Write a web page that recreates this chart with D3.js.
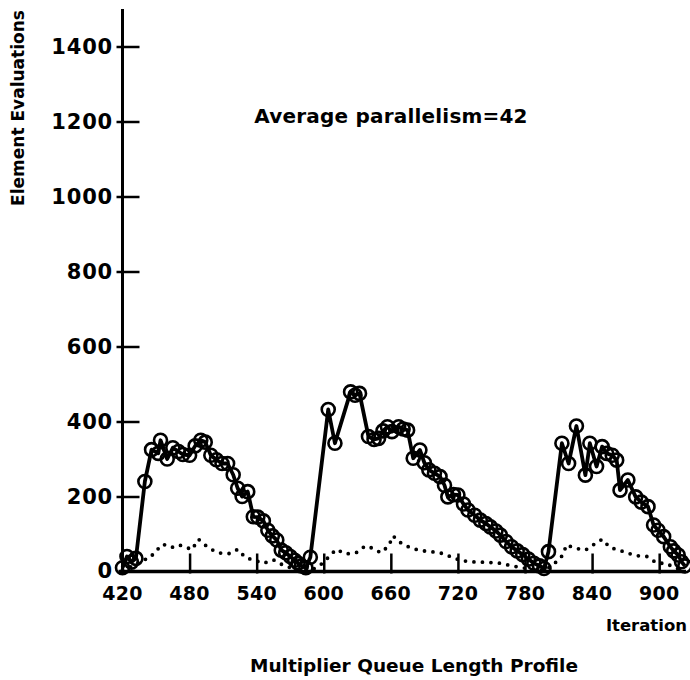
<!DOCTYPE html>
<html>
<head>
<meta charset="utf-8">
<script src="https://cdn.jsdelivr.net/npm/d3@7"></script>
<style>
  body { margin: 0; background: #fff; }
  svg text { font-family: "DejaVu Sans", sans-serif; font-weight: bold; fill: #000; }
</style>
</head>
<body>
<svg id="chart" width="690" height="680"></svg>
<script>
// main series: element evaluations per iteration (circles + solid line)
const iterations = [420, 424, 428, 432, 440, 446, 452, 454, 460, 465, 470, 474, 480, 485, 490, 494,
  499, 504, 509, 514, 519, 523, 527, 532, 537, 541, 546, 550, 554, 558, 562, 566, 570, 574, 577,
  580, 584, 588, 604, 610, 624, 628, 632, 640, 645, 649, 653, 657, 661, 667, 671, 675, 680, 686,
  690, 694, 699, 704, 708, 711, 716, 720, 725, 729, 735, 740, 745, 749, 754, 758, 763, 768, 773,
  778, 783, 788, 793, 797, 801, 813, 819, 826, 834, 838, 844, 849, 853, 858, 862, 865, 872, 879,
  884, 890, 895, 899, 904, 910, 913, 917, 920, 923];
const evaluations = [10, 40, 25, 35, 240, 325, 315, 350, 300, 330, 320, 312, 310, 335, 350, 345,
  310, 298, 288, 288, 258, 222, 200, 213, 146, 145, 135, 110, 95, 84, 57, 50, 40, 30, 22,
  15, 10, 38, 432, 342, 479, 470, 475, 360, 352, 355, 375, 386, 373, 386, 380, 377, 302, 324,
  290, 271, 262, 253, 230, 199, 205, 204, 180, 164, 150, 137, 128, 119, 108, 97, 80, 66, 55,
  45, 33, 22, 15, 8, 53, 342, 288, 388, 257, 342, 280, 333, 315, 310, 297, 217, 244, 199,
  185, 173, 124, 110, 93, 66, 55, 44, 26, 15];

// dotted series
const dotIterations = [420, 430, 437, 444, 450, 456, 464, 470, 476, 482, 488, 495, 503, 509, 516,
  523, 530, 538, 546, 555, 563, 572, 580, 590, 598, 605, 611, 620, 629, 637, 644, 651, 658, 662,
  668, 677, 686, 695, 704, 713, 722, 731, 740, 749, 758, 768, 778, 788, 798, 806, 814, 817, 825,
  834, 841, 849, 856, 864, 873, 880, 889, 898, 906, 914, 920];
const dotValues = [5, 15, 30, 35, 55, 73, 64, 71, 66, 58, 86, 68, 53, 48, 48,
  59, 37, 30, 22, 31, 18, 8, 3, 5, 20, 40, 59, 47, 50, 68, 62, 50, 68, 95,
  78, 64, 56, 53, 50, 40, 30, 26, 25, 24, 22, 15, 10, 5, 3, 20, 44, 71, 62,
  57, 71, 86, 64, 57, 48, 42, 40, 22, 22, 10, 5];

const xTicks = [420, 480, 540, 600, 660, 720, 780, 840, 900];
const yTicks = [0, 200, 400, 600, 800, 1000, 1200, 1400];

const svg = d3.select('#chart');

const x = d3.scaleLinear().domain([420, 924]).range([122.5, 686]);
const y = d3.scaleLinear().domain([0, 1500]).range([571.5, 9]);

// axes
const xAxis = svg.append('g')
  .attr('transform', `translate(0,${y(0)})`)
  .call(d3.axisTop(x).tickValues(xTicks.filter(t => t !== 420)).tickSize(18).tickFormat(''));
xAxis.select('.domain').remove();
xAxis.selectAll('line').attr('stroke', '#000').attr('stroke-width', 2.5).attr('y2', -18).attr('y1', 2);

const yAxis = svg.append('g')
  .attr('transform', `translate(${x(420)},0)`)
  .call(d3.axisRight(y).tickValues(yTicks.filter(t => t !== 0)).tickSize(17).tickFormat(''));
yAxis.select('.domain').remove();
yAxis.selectAll('line').attr('stroke', '#000').attr('stroke-width', 2.5).attr('x1', -6);

// axis lines
svg.append('line')
  .attr('x1', x(420) - 4).attr('x2', 686)
  .attr('y1', y(0)).attr('y2', y(0))
  .attr('stroke', '#000').attr('stroke-width', 3.5);
svg.append('line')
  .attr('x1', x(420)).attr('x2', x(420))
  .attr('y1', y(0) + 3).attr('y2', 9)
  .attr('stroke', '#000').attr('stroke-width', 3);

// tick labels
svg.selectAll('.xlab')
  .data(xTicks)
  .join('text')
  .attr('class', 'xlab')
  .attr('x', d => x(d))
  .attr('y', 600)
  .attr('text-anchor', 'middle')
  .attr('font-size', 19)
  .attr('letter-spacing', 0.3)
  .text(d => d);

svg.selectAll('.ylab')
  .data(yTicks)
  .join('text')
  .attr('class', 'ylab')
  .attr('x', 113)
  .attr('y', d => y(d) + (d === 0 ? 6 : 7.5))
  .attr('text-anchor', 'end')
  .attr('font-size', 21)
  .attr('letter-spacing', 0.8)
  .text(d => d);

// dotted series
const dotData = dotIterations.map((it, i) => [it, dotValues[i]]);
svg.append('path')
  .datum(dotData)
  .attr('fill', 'none')
  .attr('stroke', '#000')
  .attr('stroke-width', 3.8)
  .attr('stroke-linecap', 'round')
  .attr('stroke-dasharray', '0 8.5')
  .attr('d', d3.line().x(d => x(d[0])).y(d => y(d[1])));

// main series
const mainData = iterations.map((it, i) => [it, evaluations[i]]);
svg.append('path')
  .datum(mainData)
  .attr('fill', 'none')
  .attr('stroke', '#000')
  .attr('stroke-width', 3.8)
  .attr('stroke-linejoin', 'round')
  .attr('d', d3.line().x(d => x(d[0])).y(d => y(d[1])));

svg.selectAll('.pt')
  .data(mainData)
  .join('circle')
  .attr('class', 'pt')
  .attr('cx', d => x(d[0]))
  .attr('cy', d => y(d[1]))
  .attr('r', 6.5)
  .attr('fill', 'none')
  .attr('stroke', '#000')
  .attr('stroke-width', 2.6);

// labels
svg.append('text')
  .attr('x', 391)
  .attr('y', 123)
  .attr('text-anchor', 'middle')
  .attr('font-size', 20)
  .attr('letter-spacing', 0.2)
  .text('Average parallelism=42');

svg.append('text')
  .attr('transform', 'translate(24,108) rotate(-90)')
  .attr('text-anchor', 'middle')
  .attr('font-size', 17)
  .text('Element Evaluations');

svg.append('text')
  .attr('x', 687)
  .attr('y', 631)
  .attr('text-anchor', 'end')
  .attr('font-size', 16.5)
  .text('Iteration');

svg.append('text')
  .attr('x', 414)
  .attr('y', 672)
  .attr('text-anchor', 'middle')
  .attr('font-size', 18.5)
  .text('Multiplier Queue Length Profile');
</script>
</body>
</html>
